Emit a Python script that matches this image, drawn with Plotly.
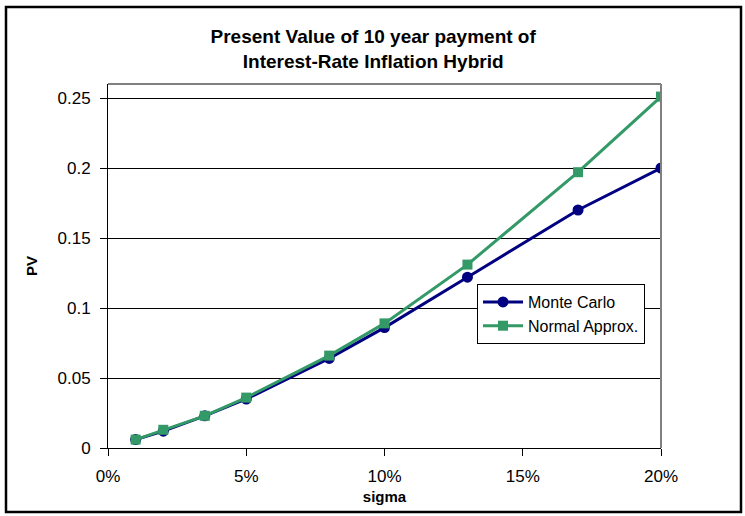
import plotly.graph_objects as go

# sigma levels (as fractions) and present values for each pricing method
sigma = [0.01, 0.02, 0.035, 0.05, 0.08, 0.10, 0.13, 0.17, 0.20]
monte_carlo = [0.006, 0.012, 0.023, 0.035, 0.064, 0.086, 0.122, 0.170, 0.200]
normal_approx = [0.006, 0.013, 0.023, 0.036, 0.066, 0.089, 0.131, 0.197, 0.251]

x_ticks = [0, 0.05, 0.10, 0.15, 0.20]
x_tick_labels = ["0%", "5%", "10%", "15%", "20%"]
y_ticks = [0, 0.05, 0.1, 0.15, 0.2, 0.25]
y_tick_labels = ["0", "0.05", "0.1", "0.15", "0.2", "0.25"]

FONT = "Liberation Sans, Arial, sans-serif"

fig = go.Figure()
fig.add_trace(go.Scatter(
    x=sigma, y=monte_carlo, name="Monte Carlo", mode="lines+markers",
    line=dict(color="#000080", width=3),
    marker=dict(symbol="circle", size=11, color="#000080"),
))
fig.add_trace(go.Scatter(
    x=sigma, y=normal_approx, name="Normal Approx.", mode="lines+markers",
    line=dict(color="#339966", width=3),
    marker=dict(symbol="square", size=10, color="#339966"),
))

W, H = 745, 516
L, R, T, B = 108, 84, 84, 68
pw, ph = W - L - R, H - T - B


def px_x(x):
    return (x - L) / pw


def px_y(y):
    return (H - B - y) / ph


fig.update_layout(
    width=W, height=H,
    margin=dict(l=L, r=R, t=T, b=B),
    paper_bgcolor="white", plot_bgcolor="white",
    font=dict(family=FONT, size=17, color="black"),
    title=dict(
        text="<b>Present Value of 10 year payment of<br>Interest-Rate Inflation Hybrid</b>",
        x=px_x(385), xanchor="center", y=1 - 43 / H, yanchor="middle",
        font=dict(family=FONT, size=19, color="black"),
    ),
    showlegend=True,
    legend=dict(
        x=px_x(477), y=px_y(284), xanchor="left", yanchor="top",
        bgcolor="white", bordercolor="black", borderwidth=1,
        font=dict(family=FONT, size=16, color="black"),
        tracegroupgap=0, itemwidth=40,
    ),
    xaxis=dict(
        range=[0, 0.2], tickvals=x_ticks, ticktext=x_tick_labels,
        showgrid=False, zeroline=False,
        showline=True, linecolor="black", linewidth=1,
        ticks="outside", ticklen=7, tickcolor="black",
        ticklabelstandoff=6,
        title=dict(text="<b>sigma</b>", font=dict(family=FONT, size=15), standoff=6),
    ),
    yaxis=dict(
        range=[0, 0.26], tickvals=y_ticks, ticktext=y_tick_labels,
        showgrid=True, gridcolor="black", gridwidth=1, zeroline=False,
        showline=True, linecolor="black", linewidth=1,
        ticks="outside", ticklen=7, tickcolor="black",
        ticklabelstandoff=6,
        title=dict(text="<b>PV</b>", font=dict(family=FONT, size=15), standoff=16),
    ),
    shapes=[
        # grey top and right edges of the plot area
        dict(type="line", xref="paper", yref="paper", x0=0, x1=1, y0=1, y1=1,
             line=dict(color="#808080", width=2)),
        dict(type="line", xref="paper", yref="paper", x0=1, x1=1, y0=0, y1=1,
             line=dict(color="#808080", width=2)),
        # chart frame
        dict(type="rect", xref="paper", yref="paper",
             x0=px_x(6), x1=px_x(741), y0=px_y(512), y1=px_y(7),
             line=dict(color="black", width=2.5)),
    ],
)

fig.write_html("out.html")
